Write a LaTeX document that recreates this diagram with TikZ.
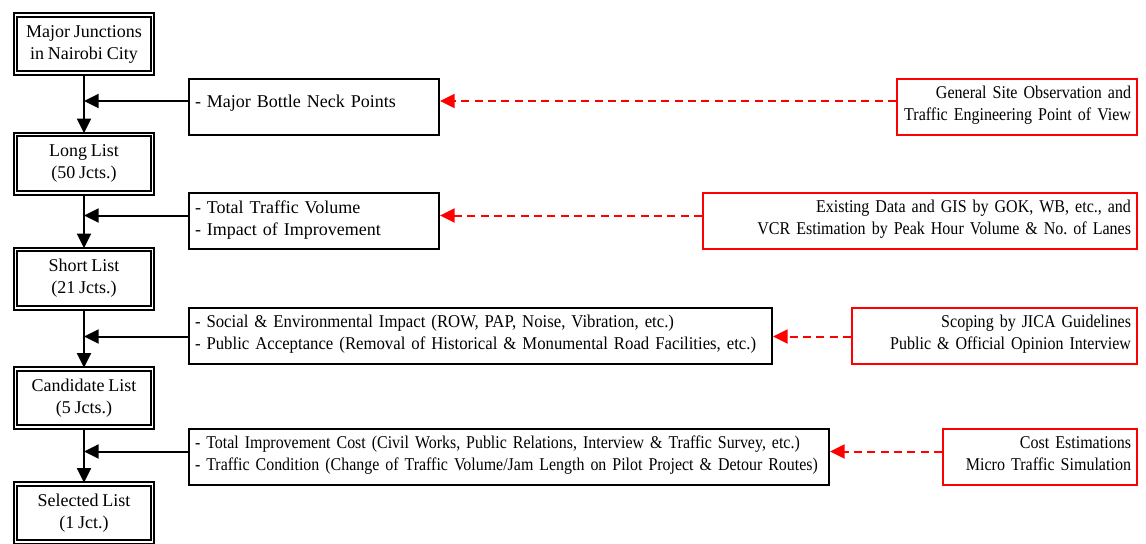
\documentclass[tikz,border=0pt]{standalone}
\usepackage{fontspec}
\setmainfont[WordSpace=0.85]{Liberation Serif}
\newfontfamily\narrowfont[FakeStretch=0.93, WordSpace=0.85]{Liberation Serif}
\newfontfamily\condfont[FakeStretch=0.885, WordSpace=0.85]{Liberation Serif}
\newfontfamily\srcfont[FakeStretch=0.89, WordSpace=0.85]{Liberation Serif}
\usetikzlibrary{arrows.meta,positioning}
\hyphenpenalty=10000
\exhyphenpenalty=10000
\frenchspacing

\tikzset{
  listbox/.style={draw, double, line width=1.5pt, double distance=1.2pt,
    minimum width=103pt, minimum height=43.8pt, align=center, inner sep=2pt},
  critbox/.style={draw, line width=1.5pt, align=left, minimum height=42pt,
    inner xsep=4.5pt, inner ysep=2pt, text depth=21.5pt, anchor=west},
  srcbox/.style={draw=red, line width=1.5pt, align=right, minimum height=42pt,
    inner xsep=4.5pt, inner ysep=2pt, text depth=21.5pt, anchor=east,
    font=\fontsize{13.5pt}{16.5pt}\srcfont},
  flow/.style={-{Triangle[length=11pt,width=10.5pt]}, line width=1.5pt},
  hint/.style={-{Triangle[length=11pt,width=10.5pt]}, red, line width=1.5pt,
    dash pattern=on 6pt off 4pt},
}

\begin{document}
\begin{tikzpicture}[x=0.75pt, y=-0.75pt, font=\fontsize{13.5pt}{16.5pt}\selectfont]
            \useasboundingbox (0,0) rectangle (1146,543);
            \node[listbox] (major) at (84,44) {Major Junctions\\in Nairobi City};
            \node[listbox] (long) at (84,163.5) {Long List\\(50 Jcts.)};
            \node[listbox] (short) at (84,278.5) {Short List\\(21 Jcts.)};
            \node[listbox] (cand) at (84,398) {Candidate List\\(5 Jcts.)};
            \node[listbox] (sel) at (84,513) {Selected List\\(1 Jct.)};
            \node[critbox, text width=178.5pt, text depth=8pt] (bneck) at (188,107) {- Major Bottle Neck Points};
            \node[critbox, text width=178.5pt] (volume) at (188,221) {- Total Traffic Volume\\- Impact of Improvement};
            \node[critbox, text width=428.25pt, font=\fontsize{13.5pt}{16.5pt}\narrowfont] (social) at (188,335.5) {- Social \& Environmental Impact (ROW, PAP, Noise, Vibration, etc.)\\- Public Acceptance (Removal of Historical \& Monumental Road Facilities, etc.)};
            \node[critbox, text width=471pt, font=\fontsize{13.5pt}{16.5pt}\condfont] (cost) at (188,456.5) {- Total Improvement Cost (Civil Works, Public Relations, Interview \& Traffic Survey, etc.)\\- Traffic Condition (Change of Traffic Volume/Jam Length on Pilot Project \& Detour Routes)};
            \node[srcbox, text width=171pt] (site) at (1138,106.5) {General Site Observation and\\Traffic Engineering Point of View};
            \node[srcbox, text width=316.5pt] (gis) at (1138,221) {Existing Data and GIS by GOK, WB, etc., and\\VCR Estimation by Peak Hour Volume \& No. of Lanes};
            \node[srcbox, text width=204.75pt] (jica) at (1138,335.5) {Scoping by JICA Guidelines\\Public \& Official Opinion Interview};
            \node[srcbox, text width=136.5pt] (sim) at (1138,456.5) {Cost Estimations\\Micro Traffic Simulation};
            \coordinate (j1) at (84,101);
            \coordinate (j2) at (84,215.5);
            \coordinate (j3) at (84,336.5);
            \coordinate (j4) at (84,451.5);
            \foreach \a/\b in {major/long, long/short, short/cand, cand/sel}{
                    \draw[flow] (\a) -- (\b);
                }
            \foreach \c/\j in {bneck/j1, volume/j2, social/j3, cost/j4}{
                    \draw[flow] (\c.west |- \j) -- (\j);
                }
            \foreach \s/\c/\j in {site/bneck/j1, gis/volume/j2, jica/social/j3, sim/cost/j4}{
                    \draw[hint] (\s.west |- \j) -- (\c.east |- \j);
                }
        \end{tikzpicture}
\end{document}
